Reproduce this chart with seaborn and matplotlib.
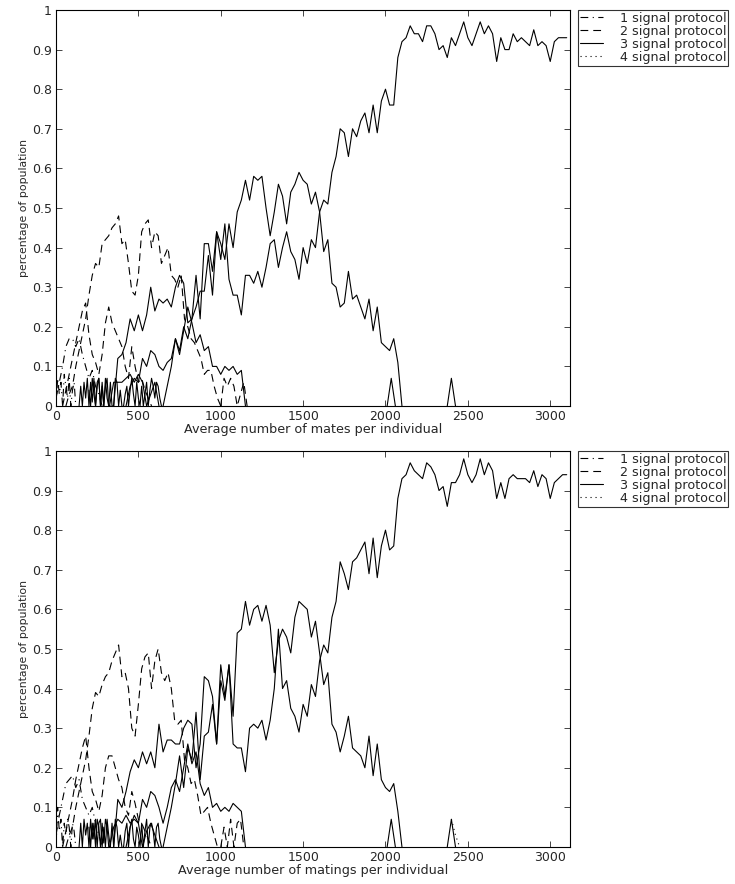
import numpy as np
import pandas as pd
import matplotlib.pyplot as plt
from matplotlib.lines import Line2D
import seaborn as sns

# Protocol names (legend)
protocols = ['1 signal protocol', '2 signal protocol', '3 signal protocol', '4 signal protocol']

# ---------------- top panel: mates per individual ----------------
# 3 signal protocols (solid), step 25
top_win_start = 650
top_win = [0.00, 0.05, 0.10, 0.17, 0.14, 0.20, 0.17, 0.22, 0.25, 0.29,
           0.29, 0.38, 0.28, 0.44, 0.37, 0.46, 0.32, 0.28, 0.28, 0.23,
           0.33, 0.33, 0.31, 0.34, 0.30, 0.35, 0.41, 0.42, 0.35, 0.40,
           0.44, 0.39, 0.37, 0.32, 0.40, 0.36, 0.42, 0.40, 0.49, 0.52,
           0.51, 0.59, 0.63, 0.70, 0.69, 0.63, 0.70, 0.68, 0.72, 0.74,
           0.69, 0.76, 0.69, 0.77, 0.80, 0.76, 0.76, 0.88, 0.92, 0.93,
           0.96, 0.94, 0.94, 0.92, 0.96, 0.96, 0.94, 0.90, 0.91, 0.88,
           0.93, 0.91, 0.94, 0.97, 0.93, 0.91, 0.94, 0.97, 0.94, 0.96,
           0.94, 0.87, 0.93, 0.90, 0.90, 0.94, 0.92, 0.93, 0.92, 0.91,
           0.95, 0.91, 0.92, 0.91, 0.87, 0.92, 0.93, 0.93, 0.93]
top_lose_start = 350
top_lose = [0.00, 0.12, 0.13, 0.16, 0.22, 0.19, 0.23, 0.19, 0.23, 0.30,
            0.24, 0.27, 0.26, 0.27, 0.25, 0.30, 0.33, 0.31, 0.21, 0.22,
            0.33, 0.22, 0.41, 0.41, 0.34, 0.44, 0.41, 0.37, 0.46, 0.40,
            0.49, 0.52, 0.57, 0.52, 0.58, 0.57, 0.58, 0.50, 0.43, 0.49,
            0.56, 0.53, 0.46, 0.54, 0.56, 0.59, 0.57, 0.56, 0.51, 0.54,
            0.49, 0.39, 0.42, 0.31, 0.30, 0.25, 0.26, 0.34, 0.27, 0.28,
            0.25, 0.22, 0.27, 0.19, 0.25, 0.16, 0.15, 0.14, 0.17, 0.11,
            0.00]
top_small_start = 425
top_small = [0.00, 0.05, 0.07, 0.06, 0.12, 0.10, 0.14, 0.13, 0.10, 0.09,
             0.11, 0.12, 0.17, 0.13, 0.19, 0.25, 0.21, 0.16, 0.18, 0.14,
             0.15, 0.10, 0.10, 0.08, 0.10, 0.09, 0.10, 0.08, 0.09, 0.00]
top_low_start = 325
top_low = [0.00, 0.06, 0.06, 0.06, 0.07, 0.08, 0.06, 0.08, 0.06, 0.00, 0.03, 0.06, 0.00]
# fast near-zero runs, step 10
top_zig1 = [0.00, 0.05, 0.00, 0.06, 0.02, 0.07, 0.00, 0.06, 0.01, 0.07,
            0.00, 0.05, 0.07, 0.00, 0.06, 0.00, 0.05, 0.07, 0.00, 0.00]
top_zig2 = [0.04, 0.00, 0.07, 0.03, 0.00, 0.06, 0.07, 0.00, 0.05, 0.00, 0.07,
            0.02, 0.00, 0.06, 0.00, 0.00, 0.07, 0.06, 0.00, 0.04, 0.00]
top_zig3 = [0.00, 0.03, 0.05, 0.00, 0.04, 0.07, 0.03, 0.00, 0.06, 0.02, 0.00, 0.05,
            0.00, 0.03, 0.06, 0.00, 0.04, 0.07, 0.05, 0.02, 0.06, 0.05, 0.02, 0.00]
top_spike = [0.00, 0.07, 0.00]
# 2 signal protocols (dashed), step 20
top_dash1 = [0.00, 0.03, 0.05, 0.10, 0.14, 0.18, 0.22, 0.28, 0.33, 0.36,
             0.35, 0.41, 0.42, 0.43, 0.45, 0.46, 0.48, 0.41, 0.42, 0.36,
             0.29, 0.28, 0.33, 0.44, 0.46, 0.47, 0.40, 0.44, 0.43, 0.36,
             0.38, 0.40, 0.33, 0.32, 0.30, 0.33, 0.22, 0.20, 0.17, 0.16,
             0.14, 0.12, 0.08, 0.09, 0.09, 0.05, 0.02, 0.00]
top_dash2 = [0.00, 0.04, 0.08, 0.12, 0.16, 0.20, 0.24, 0.26, 0.18, 0.13,
             0.11, 0.08, 0.13, 0.21, 0.25, 0.21, 0.19, 0.17, 0.15, 0.10,
             0.07, 0.15, 0.10, 0.06, 0.07, 0.04, 0.02, 0.00]
top_dash3 = [0.00, 0.07, 0.05, 0.07, 0.05, 0.00, 0.03, 0.06, 0.00]
# 1 signal protocols (dash-dot)
top_dd1 = [0.02, 0.06, 0.10, 0.15, 0.17, 0.17, 0.15, 0.17, 0.13, 0.10, 0.07, 0.09, 0.05, 0.03, 0.00]
top_dd2 = [0.00, 0.07, 0.03, 0.06, 0.00, 0.08, 0.05, 0.02, 0.07, 0.00, 0.04, 0.06, 0.00]
# 4 signal protocol (dotted) stays on zero
top_dot = [0.00, 0.00, 0.00]

# ---------------- bottom panel: matings per individual ----------------
bot_win_start = 650
bot_win = [0.00, 0.05, 0.10, 0.16, 0.23, 0.15, 0.25, 0.22, 0.34, 0.17,
           0.28, 0.29, 0.36, 0.26, 0.42, 0.37, 0.46, 0.26, 0.25, 0.25,
           0.19, 0.30, 0.31, 0.30, 0.32, 0.27, 0.32, 0.40, 0.55, 0.40,
           0.42, 0.35, 0.33, 0.29, 0.36, 0.33, 0.41, 0.38, 0.47, 0.51,
           0.49, 0.58, 0.62, 0.72, 0.69, 0.65, 0.72, 0.73, 0.75, 0.77,
           0.69, 0.78, 0.68, 0.76, 0.80, 0.75, 0.76, 0.88, 0.93, 0.94,
           0.97, 0.95, 0.94, 0.93, 0.97, 0.96, 0.94, 0.90, 0.91, 0.86,
           0.92, 0.92, 0.94, 0.98, 0.94, 0.92, 0.94, 0.98, 0.94, 0.97,
           0.95, 0.88, 0.92, 0.88, 0.93, 0.94, 0.93, 0.93, 0.93, 0.92,
           0.95, 0.91, 0.94, 0.93, 0.88, 0.92, 0.93, 0.94, 0.94]
bot_lose_start = 350
bot_lose = [0.00, 0.12, 0.10, 0.14, 0.19, 0.22, 0.20, 0.24, 0.21, 0.24,
            0.20, 0.31, 0.24, 0.27, 0.27, 0.26, 0.26, 0.30, 0.32, 0.31,
            0.20, 0.26, 0.43, 0.42, 0.38, 0.26, 0.46, 0.38, 0.46, 0.33,
            0.54, 0.55, 0.62, 0.56, 0.60, 0.61, 0.57, 0.61, 0.56, 0.44,
            0.52, 0.55, 0.53, 0.49, 0.58, 0.62, 0.61, 0.60, 0.53, 0.57,
            0.49, 0.41, 0.44, 0.31, 0.29, 0.24, 0.28, 0.33, 0.25, 0.24,
            0.23, 0.20, 0.28, 0.18, 0.26, 0.17, 0.15, 0.14, 0.16, 0.09,
            0.00]
bot_small_start = 425
bot_small = [0.00, 0.05, 0.08, 0.06, 0.12, 0.10, 0.14, 0.13, 0.10, 0.06,
             0.10, 0.15, 0.17, 0.14, 0.20, 0.26, 0.21, 0.24, 0.16, 0.13,
             0.15, 0.10, 0.11, 0.09, 0.10, 0.09, 0.11, 0.10, 0.09, 0.00]
bot_low_start = 325
bot_low = [0.00, 0.05, 0.07, 0.06, 0.08, 0.06, 0.07, 0.06, 0.00, 0.04, 0.06, 0.03, 0.00]
bot_zig1 = [0.00, 0.06, 0.00, 0.07, 0.03, 0.06, 0.00, 0.07, 0.02, 0.06,
            0.00, 0.07, 0.05, 0.00, 0.06, 0.01, 0.07, 0.05, 0.00, 0.00]
bot_zig2 = [0.05, 0.00, 0.06, 0.02, 0.07, 0.00, 0.06, 0.07, 0.00, 0.05, 0.00,
            0.07, 0.03, 0.00, 0.06, 0.00, 0.07, 0.05, 0.00, 0.03, 0.00]
bot_zig3 = [0.00, 0.04, 0.06, 0.00, 0.05, 0.07, 0.02, 0.00, 0.05, 0.03, 0.00, 0.06,
            0.00, 0.04, 0.07, 0.00, 0.05, 0.06, 0.04, 0.00, 0.05, 0.06, 0.02, 0.00]
bot_spike = [0.00, 0.07, 0.00]
bot_dash1 = [0.00, 0.03, 0.05, 0.10, 0.14, 0.18, 0.22, 0.28, 0.35, 0.39,
             0.38, 0.41, 0.43, 0.44, 0.47, 0.49, 0.51, 0.43, 0.44, 0.40,
             0.30, 0.28, 0.36, 0.45, 0.48, 0.49, 0.40, 0.47, 0.50, 0.44,
             0.42, 0.44, 0.40, 0.32, 0.31, 0.32, 0.22, 0.20, 0.16, 0.17,
             0.13, 0.08, 0.09, 0.10, 0.06, 0.03, 0.00]
bot_dash2 = [0.00, 0.04, 0.08, 0.12, 0.17, 0.21, 0.25, 0.28, 0.20, 0.14,
             0.12, 0.09, 0.13, 0.20, 0.23, 0.23, 0.20, 0.17, 0.15, 0.10,
             0.08, 0.14, 0.11, 0.07, 0.06, 0.04, 0.02, 0.00]
bot_dash3 = [0.00, 0.05, 0.00, 0.07, 0.00, 0.06, 0.07, 0.00]
bot_dd1 = [0.03, 0.08, 0.12, 0.16, 0.17, 0.18, 0.15, 0.17, 0.12, 0.10, 0.08, 0.10, 0.06, 0.03, 0.00]
bot_dd2 = [0.00, 0.10, 0.04, 0.07, 0.00, 0.06, 0.03, 0.07, 0.05, 0.00, 0.06, 0.04, 0.00]
bot_dot = [0.07, 0.03, 0.00]

# (protocol index, first x, x step, values)
top_runs = [
    (2, top_win_start, 25, top_win), (2, top_lose_start, 25, top_lose),
    (2, top_small_start, 25, top_small), (2, top_low_start, 25, top_low),
    (2, 140, 10, top_zig1), (2, 200, 10, top_zig2), (2, 410, 10, top_zig3),
    (2, 2010, 25, top_spike), (2, 2375, 25, top_spike),
    (1, 60, 20, top_dash1), (1, 40, 20, top_dash2), (1, 1000, 20, top_dash3),
    (0, 0, 20, top_dd1), (0, 0, 10, top_dd2),
    (3, 2400, 25, top_dot),
]
bot_runs = [
    (2, bot_win_start, 25, bot_win), (2, bot_lose_start, 25, bot_lose),
    (2, bot_small_start, 25, bot_small), (2, bot_low_start, 25, bot_low),
    (2, 140, 10, bot_zig1), (2, 200, 10, bot_zig2), (2, 410, 10, bot_zig3),
    (2, 2010, 25, bot_spike), (2, 2375, 25, bot_spike),
    (1, 60, 20, bot_dash1), (1, 40, 20, bot_dash2), (1, 1000, 20, bot_dash3),
    (0, 0, 20, bot_dd1), (0, 0, 10, bot_dd2),
    (3, 2400, 25, bot_dot),
]


def to_frame(runs):
    rows = []
    for i, (p, start, step, vals) in enumerate(runs):
        xs = start + step * np.arange(len(vals))
        for x, y in zip(xs, vals):
            rows.append({'x': x, 'y': y, 'run': i, 'protocol': protocols[p]})
    return pd.DataFrame(rows)


# line styles like the old matlab plot
dash_map = {
    '1 signal protocol': (7, 4, 1, 4),
    '2 signal protocol': (7, 4.5),
    '3 signal protocol': '',
    '4 signal protocol': (1, 3.5),
}
lw = 0.8

sns.set_style('ticks')
plt.rcParams['font.family'] = ['DejaVu Sans']
plt.rcParams['xtick.direction'] = 'in'
plt.rcParams['ytick.direction'] = 'in'

fig = plt.figure(figsize=(7.35, 8.84), dpi=100)
ax1 = fig.add_axes([0.0762, 0.5407, 0.6993, 0.448])
ax2 = fig.add_axes([0.0762, 0.0419, 0.6993, 0.448])

panels = [(ax1, top_runs, 'Average number of mates per individual'),
          (ax2, bot_runs, 'Average number of matings per individual')]

for ax, runs, xlab in panels:
    df = to_frame(runs)
    sns.lineplot(data=df, x='x', y='y', units='run', estimator=None, sort=False,
                 style='protocol', style_order=protocols, dashes=dash_map,
                 color='black', linewidth=lw, legend=False, ax=ax)
    ax.set_xlim(0, 3120)
    ax.set_ylim(0, 1)
    ax.set_xticks([0, 500, 1000, 1500, 2000, 2500, 3000])
    ax.set_yticks(np.arange(0, 1.01, 0.1))
    ax.set_yticklabels(['0', '0.1', '0.2', '0.3', '0.4', '0.5', '0.6', '0.7', '0.8', '0.9', '1'])
    ax.tick_params(top=True, right=True, length=4, width=0.6, labelsize=9, pad=3)
    for sp in ax.spines.values():
        sp.set_visible(True)
        sp.set_color('black')
        sp.set_linewidth(0.8)
    ax.set_xlabel(xlab, fontsize=9.2, labelpad=0)
    ax.set_ylabel('percentage of population', fontsize=7.8, labelpad=2)

    handles = []
    for p in protocols:
        d = dash_map[p]
        ls = '-' if d == '' else (0, d)
        handles.append(Line2D([], [], color='black', linewidth=lw, linestyle=ls))
    leg = ax.legend(handles, protocols, loc='upper left', bbox_to_anchor=(1.0156, 1.0),
                    borderaxespad=0, fontsize=9.2, frameon=True, fancybox=False,
                    labelspacing=0.0, borderpad=0.15, handlelength=1.8, handletextpad=1.3)
    leg.get_frame().set_edgecolor('black')
    leg.get_frame().set_linewidth(0.8)

fig.savefig('out.png', dpi=100)
